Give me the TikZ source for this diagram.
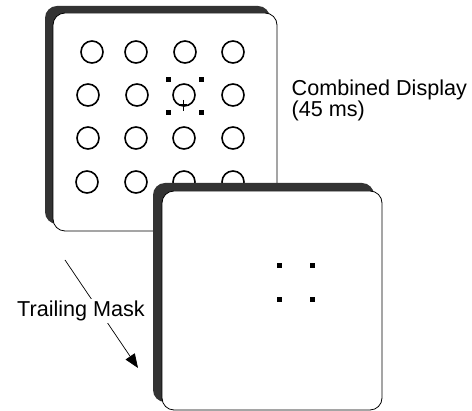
\documentclass[tikz,border=0pt]{standalone}
\usepackage{fontspec}
\setmainfont{Liberation Sans}
\usetikzlibrary{arrows.meta}

\tikzset{
    shadow/.style={fill=black!80, rounded corners=12pt},
    card/.style={draw=black, fill=white, line width=0.8pt, rounded corners=12pt},
    ring/.style={draw=black, line width=1.6pt},
    label/.style={font=\fontsize{21.6}{18.5}\selectfont, inner sep=0pt}
}

\begin{document}
\begin{tikzpicture}[x=1pt, y=-1pt]
    \useasboundingbox (0,0) rectangle (472,411);

    % combined display
    \fill[shadow] (45,6) rectangle (270,224);
    \draw[card] (53,13) rectangle (277,231);

    \draw[ring] (92,52) circle (11);
    \draw[ring] (136,52) circle (11);
    \draw[ring] (185,52) circle (11);
    \draw[ring] (233,52) circle (11);

    \draw[ring] (88,95) circle (11);
    \draw[ring] (137,95) circle (11);
    \draw[ring] (184,95) circle (11);
    \draw[ring] (233,95) circle (11);

    \draw[ring] (88,138) circle (11);
    \draw[ring] (136,138) circle (11);
    \draw[ring] (184,138) circle (11);
    \draw[ring] (233,138) circle (11);

    \draw[ring] (87,182) circle (11);
    \draw[ring] (136,182) circle (11);
    \draw[ring] (184,182) circle (11);
    \draw[ring] (233,182) circle (11);

    \draw[line width=0.8pt] (183,100) -- (183,111) (179.5,104.5) -- (186.5,104.5);

    \fill (165.5,77.5) rectangle +(5,5);
    \fill (198.5,77.5) rectangle +(5,5);
    \fill (165.5,110.5) rectangle +(5,5);
    \fill (198.5,110.5) rectangle +(5,5);

    \node[label, align=left, anchor=north west] (combined) at (291.5,79.3) {Combined Display\\(45 ms)};

    % trailing mask
    \fill[shadow] (153,183) rectangle (374,402);
    \draw[card] (162,191) rectangle (382,410);

    \fill (276.5,263.5) rectangle +(5,5);
    \fill (309.5,263.5) rectangle +(5,5);
    \fill (276.5,297.5) rectangle +(5,5);
    \fill (309.5,297.5) rectangle +(5,5);

    \coordinate (maskstart) at (65,260);
    \coordinate (masktip) at (138,368);
    \draw[line width=0.7pt, -{Triangle[length=14pt, width=11pt]}] (maskstart) -- (masktip);
    \node[label, fill=white, inner sep=2pt, anchor=base] (mask) at (81,317) {Trailing Mask};
\end{tikzpicture}
\end{document}
